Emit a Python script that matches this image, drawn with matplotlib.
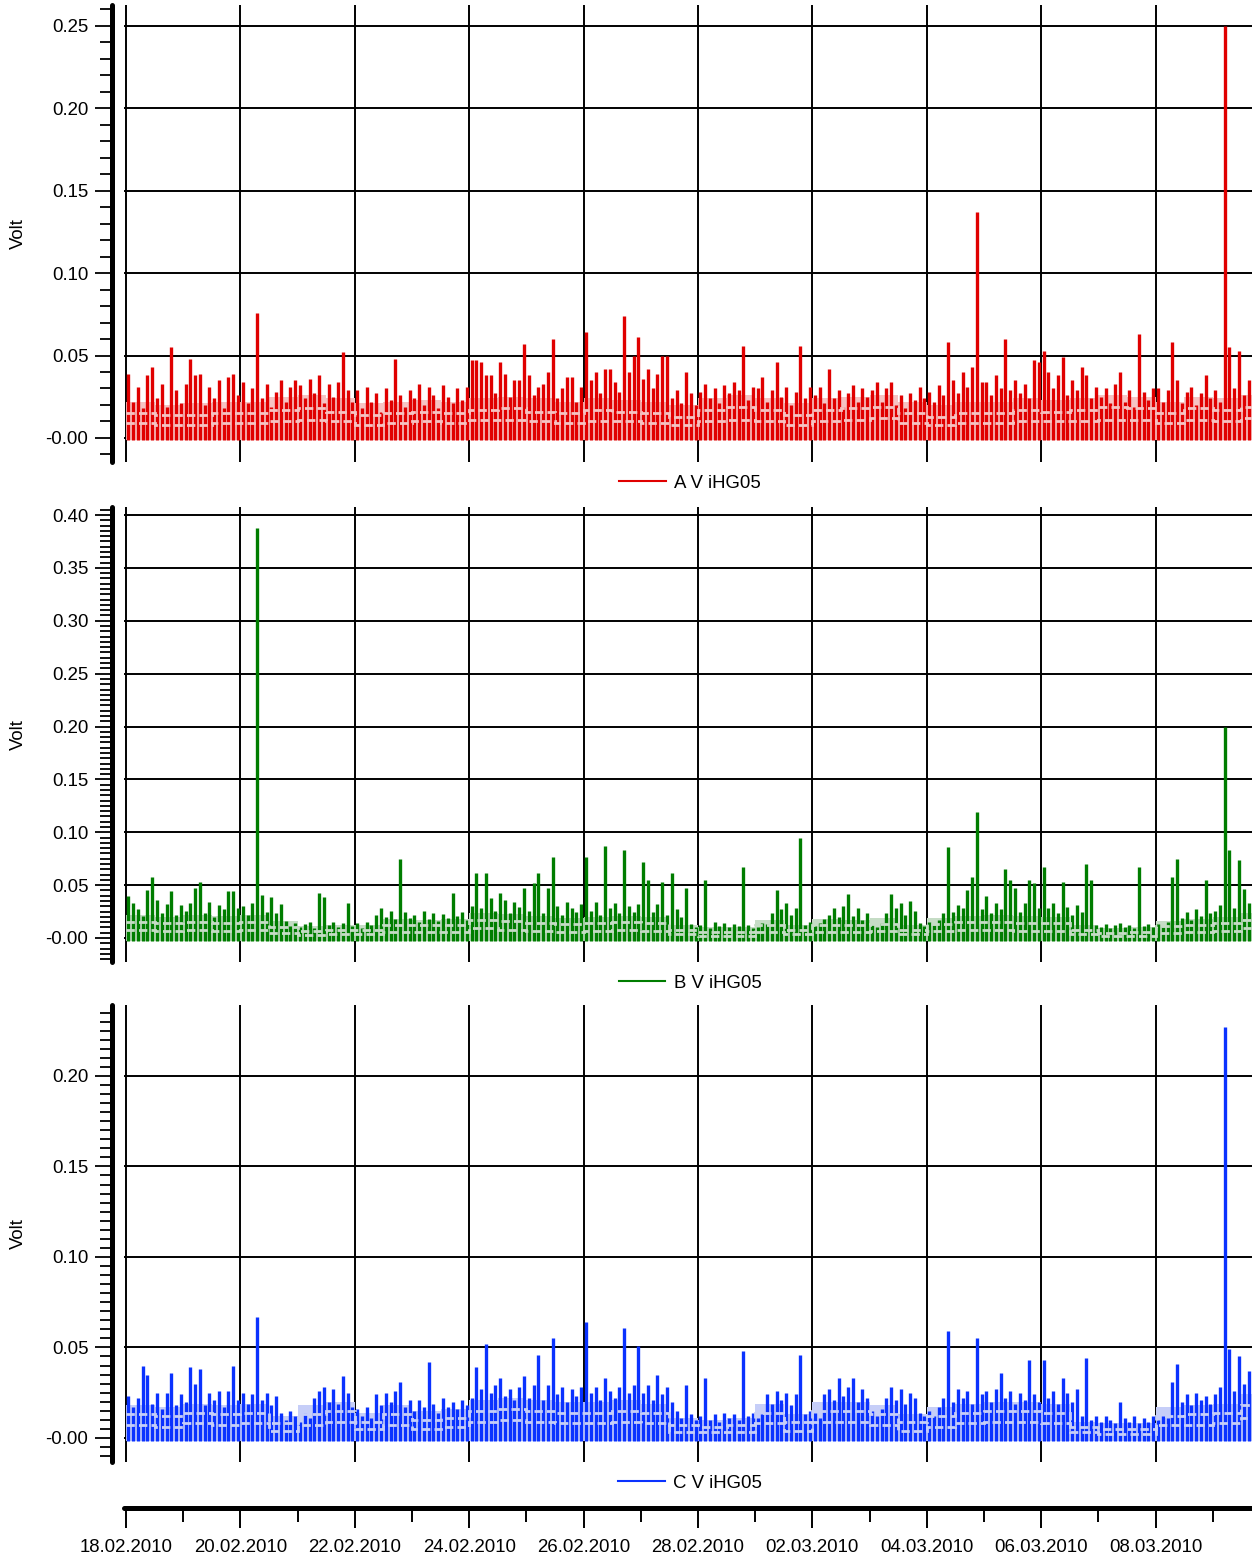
import numpy as np
import pandas as pd
import matplotlib
matplotlib.use('Agg')
import matplotlib.pyplot as plt
import matplotlib.dates as mdates
from matplotlib.lines import Line2D
from matplotlib.ticker import MultipleLocator, FixedLocator, FuncFormatter

plt.rcParams['font.family'] = ['Liberation Sans', 'DejaVu Sans']

# peak voltage per 2-hour bin in mV, first bin 18.02.2010 00:00, one row per day
peakA = [
    39, 22, 31, 18, 38, 43, 24, 33, 19, 55, 29, 21,
    33, 48, 38, 39, 20, 31, 24, 35, 18, 37, 39, 26,
    34, 21, 30, 76, 24, 33, 19, 28, 35, 22, 31, 35,
    32, 24, 36, 27, 38, 21, 33, 25, 34, 52, 29, 22,
    29, 18, 31, 22, 27, 16, 30, 23, 48, 26, 19, 29,
    24, 33, 20, 31, 26, 18, 32, 25, 21, 30, 23, 31,
    47, 47, 46, 38, 38, 27, 46, 39, 25, 35, 35, 57,
    38, 26, 31, 33, 40, 60, 24, 30, 37, 37, 22, 31,
    64, 35, 40, 27, 42, 42, 34, 28, 74, 40, 50, 61,
    36, 42, 30, 39, 50, 50, 24, 29, 21, 40, 27, 20,
    28, 33, 24, 30, 21, 32, 27, 34, 29, 56, 23, 31,
    30, 37, 22, 29, 46, 25, 31, 20, 28, 56, 24, 31,
    26, 31, 21, 42, 24, 29, 19, 27, 32, 22, 30, 25,
    29, 34, 22, 30, 34, 20, 26, 18, 27, 23, 31, 24,
    28, 22, 32, 26, 58, 35, 27, 40, 31, 43, 137, 34,
    34, 26, 38, 30, 60, 29, 35, 27, 33, 24, 47, 46,
    53, 40, 30, 38, 49, 26, 35, 29, 43, 38, 24, 31,
    25, 30, 21, 33, 40, 22, 29, 19, 63, 28, 23, 30,
    30, 22, 29, 58, 35, 21, 28, 31, 20, 27, 38, 24,
    29, 22, 250, 55, 30, 53, 26, 35,
]
peakB = [
    40, 33, 27, 21, 45, 58, 36, 24, 32, 44, 22, 31,
    26, 33, 47, 53, 24, 34, 20, 31, 27, 44, 44, 28,
    30, 22, 33, 388, 41, 25, 39, 24, 32, 16, 11, 14,
    10, 13, 15, 9, 43, 39, 12, 15, 10, 14, 33, 11,
    14, 9, 15, 12, 22, 28, 20, 26, 18, 75, 25, 19,
    22, 15, 26, 18, 24, 16, 23, 19, 43, 21, 25, 17,
    30, 61, 28, 61, 38, 26, 43, 36, 24, 34, 29, 47,
    26, 52, 61, 24, 47, 77, 30, 22, 34, 28, 25, 32,
    77, 26, 34, 22, 87, 28, 33, 24, 83, 30, 25, 32,
    72, 55, 25, 32, 53, 22, 61, 27, 20, 47, 13, 10,
    12, 55, 9, 15, 11, 14, 10, 13, 11, 67, 12, 9,
    10, 14, 13, 24, 45, 27, 33, 22, 28, 95, 12, 15,
    11, 14, 18, 22, 28, 20, 30, 42, 21, 28, 17, 24,
    13, 10, 14, 24, 42, 28, 33, 22, 35, 26, 14, 11,
    15, 12, 17, 24, 86, 25, 31, 28, 45, 58, 119, 27,
    40, 24, 33, 27, 65, 55, 47, 25, 33, 55, 52, 28,
    67, 28, 33, 24, 53, 29, 22, 31, 25, 70, 55, 12,
    10, 13, 9, 12, 14, 10, 12, 9, 67, 11, 13, 10,
    13, 10, 15, 58, 75, 19, 25, 17, 27, 21, 55, 24,
    26, 31, 200, 83, 28, 74, 46, 33,
]
peakC = [
    23, 17, 22, 40, 35, 19, 25, 16, 25, 36, 18, 24,
    20, 39, 30, 38, 18, 25, 21, 26, 17, 26, 40, 21,
    25, 19, 24, 67, 21, 25, 18, 23, 14, 10, 15, 12,
    9, 14, 11, 22, 26, 28, 20, 27, 19, 34, 25, 17,
    16, 12, 17, 11, 24, 18, 25, 20, 26, 31, 17, 21,
    15, 21, 17, 42, 19, 14, 22, 17, 20, 16, 21, 18,
    22, 39, 27, 52, 25, 29, 33, 23, 27, 21, 28, 34,
    22, 29, 46, 21, 29, 55, 24, 28, 20, 27, 23, 28,
    64, 25, 28, 21, 33, 26, 22, 28, 61, 25, 29, 51,
    25, 29, 21, 35, 24, 28, 20, 15, 11, 29, 13, 10,
    12, 33, 10, 13, 9, 14, 11, 13, 10, 48, 12, 14,
    11, 13, 24, 19, 26, 21, 25, 18, 24, 46, 13, 15,
    14, 11, 24, 27, 21, 33, 23, 28, 33, 20, 27, 22,
    15, 12, 16, 22, 28, 21, 27, 19, 25, 22, 14, 12,
    15, 12, 17, 22, 59, 20, 27, 22, 26, 19, 55, 24,
    26, 20, 27, 36, 22, 26, 19, 25, 21, 43, 24, 20,
    43, 22, 26, 19, 33, 25, 20, 27, 12, 44, 10, 12,
    9, 12, 10, 8, 20, 11, 9, 12, 8, 11, 9, 12,
    10, 12, 11, 31, 41, 20, 24, 18, 25, 21, 23, 19,
    24, 28, 227, 49, 26, 45, 30, 37,
]

# half-day envelope (mV): upper edge of the shaded band and two level lines
bandA = [22, 20, 21, 22, 22, 25, 26, 24, 21, 22, 23, 22, 24, 25, 24, 22, 24, 23, 22, 20,
         24, 26, 24, 21, 24, 25, 26, 22, 20, 22, 22, 24, 23, 24, 26, 25, 22, 25, 24, 26]
hiA = [15, 14, 14, 15, 15, 17, 18, 16, 14, 15, 16, 15, 17, 18, 16, 15, 17, 16, 15, 13,
       17, 19, 17, 14, 17, 18, 19, 15, 13, 15, 15, 17, 16, 17, 19, 18, 15, 18, 17, 19]
loA = [9, 8, 8, 9, 9, 10, 11, 10, 8, 9, 10, 9, 11, 11, 10, 9, 10, 10, 9, 8,
       10, 11, 10, 8, 10, 11, 12, 9, 8, 9, 9, 10, 10, 10, 11, 11, 9, 11, 10, 12]
bandB = [22, 20, 22, 21, 22, 16, 11, 12, 12, 18, 17, 18, 24, 23, 21, 19, 20, 21, 20, 12,
         10, 10, 17, 12, 18, 17, 19, 12, 19, 21, 22, 21, 20, 12, 9, 10, 16, 18, 20, 24]
hiB = [15, 14, 15, 14, 15, 10, 7, 8, 8, 12, 12, 12, 17, 16, 14, 13, 14, 15, 14, 8,
       6, 6, 12, 8, 12, 12, 13, 8, 13, 15, 15, 14, 14, 8, 5, 6, 11, 12, 14, 17]
loB = [8, 7, 8, 7, 8, 5, 3, 4, 4, 6, 6, 6, 9, 8, 7, 6, 7, 8, 7, 4,
       2, 2, 6, 4, 6, 6, 7, 4, 7, 8, 8, 7, 7, 4, 2, 2, 5, 6, 7, 9]
bandC = [18, 17, 19, 18, 19, 12, 18, 20, 14, 18, 15, 16, 21, 22, 21, 20, 20, 21, 19, 11,
         10, 11, 19, 13, 20, 20, 18, 13, 17, 19, 20, 20, 19, 9, 8, 8, 17, 18, 19, 24]
hiC = [13, 12, 14, 13, 14, 8, 13, 15, 9, 13, 10, 11, 15, 16, 15, 14, 14, 15, 14, 7,
       6, 7, 14, 9, 15, 15, 13, 9, 12, 14, 15, 15, 14, 6, 5, 5, 12, 13, 14, 18]
loC = [7, 6, 8, 7, 8, 4, 7, 9, 5, 7, 5, 6, 9, 10, 9, 8, 8, 9, 8, 3,
       3, 3, 8, 4, 9, 9, 7, 4, 6, 8, 9, 9, 8, 3, 2, 2, 7, 7, 8, 11]

# lowest reading of each channel (mV)
floorA, floorB, floorC = -1.5, -3.0, -1.5

labels = ['A V iHG05', 'B V iHG05', 'C V iHG05']
start = pd.Timestamp('2010-02-18')
binTimes = pd.date_range(start + pd.Timedelta(hours=1), periods=len(peakA), freq='2h')
bandEdges = pd.date_range(start, periods=len(bandA) + 1, freq='12h')
majorDays = pd.date_range('2010-02-18', '2010-03-08', freq='2D')
minorDays = pd.date_range('2010-02-18', '2010-03-09', freq='1D')

W, H = 1252, 1559
FS = 13.4


def toNum(idx):
    return mdates.date2num(idx.to_pydatetime())


t0 = mdates.date2num(start.to_pydatetime())
xlim = (t0 - 2 / 57.2, t0 + (W - 126) / 57.2)


def figRect(top, bottom, left=124, right=1252):
    return [left / W, 1 - bottom / H, (right - left) / W, (bottom - top) / H]


def yFmt(v, pos):
    if abs(v) < 1e-9:
        return '-0.00'
    return '%.2f' % v


def drawPanel(fig, rect, ylim, minor, peaks, band, hi, lo, floor, dark, light, label, legendY):
    ax = fig.add_axes(rect)
    t = toNum(binTimes)
    edges = toNum(bandEdges)
    pk = np.array(peaks) / 1000.0
    ax.stairs(np.array(band) / 1000.0, edges, baseline=floor / 1000.0, fill=True,
              color=light, lw=0, zorder=2)
    ax.vlines(t, floor / 1000.0, pk, color=dark, lw=2.4, zorder=3)
    for lvl in (hi, lo):
        ax.stairs(np.array(lvl) / 1000.0, edges, baseline=None, color=light,
                  lw=2.0, ls=(0, (3, 1.5)), zorder=4)

    ax.set_xlim(xlim)
    ax.set_ylim(ylim)
    ax.xaxis.set_major_locator(FixedLocator(toNum(majorDays)))
    ax.tick_params(axis='x', which='both', length=0, labelbottom=False)
    ax.yaxis.set_major_locator(MultipleLocator(0.05))
    ax.yaxis.set_minor_locator(MultipleLocator(minor))
    ax.yaxis.set_major_formatter(FuncFormatter(yFmt))
    ax.tick_params(axis='y', which='major', length=12, width=1.3, pad=5, labelsize=FS)
    ax.tick_params(axis='y', which='minor', length=8.6, width=1.3)
    ax.grid(True, which='major', color='black', lw=1.4)
    ax.set_axisbelow(True)
    for s in ('top', 'right', 'bottom'):
        ax.spines[s].set_visible(False)
    ax.spines['left'].set_position(('outward', 8.6))
    ax.spines['left'].set_linewidth(3.6)
    ax.spines['left'].set_capstyle('round')
    ax.patch.set_visible(False)

    mid = rect[1] + rect[3] / 2
    fig.text(18 / W, mid, 'Volt', rotation=90, ha='center', va='center', fontsize=FS)
    ax.legend(handles=[Line2D([], [], color=dark, lw=1.5)], labels=[label],
              loc='center', bbox_to_anchor=(690 / W, 1 - legendY / H),
              bbox_transform=fig.transFigure, frameon=False, fontsize=FS,
              handlelength=2.5, handletextpad=0.45)
    return ax


fig = plt.figure(figsize=(W / 100, H / 100), dpi=100)

drawPanel(fig, figRect(5, 462), (-0.0146, 0.2627), 0.01, peakA, bandA, hiA, loA, floorA,
          '#e00000', '#f6c3c3', labels[0], 483)
drawPanel(fig, figRect(507, 962), (-0.0227, 0.4076), 0.005, peakB, bandB, hiB, loB, floorB,
          '#007d00', '#c5dcc5', labels[1], 983)
drawPanel(fig, figRect(1005, 1462), (-0.0133, 0.2392), 0.005, peakC, bandC, hiC, loC, floorC,
          '#0a32ff', '#c6cef8', labels[2], 1483)

# shared date axis underneath the three channels
axd = fig.add_axes(figRect(1507, 1508))
axd.set_xlim(xlim)
axd.xaxis.set_major_locator(FixedLocator(toNum(majorDays)))
axd.xaxis.set_minor_locator(FixedLocator(toNum(minorDays)))
axd.xaxis.set_major_formatter(mdates.DateFormatter('%d.%m.%Y'))
axd.tick_params(axis='x', which='major', length=14.4, width=1.4, pad=8, labelsize=FS)
axd.tick_params(axis='x', which='minor', length=10, width=1.4)
axd.set_yticks([])
for s in ('top', 'right', 'left'):
    axd.spines[s].set_visible(False)
axd.spines['bottom'].set_linewidth(3.6)
axd.spines['bottom'].set_capstyle('round')
axd.patch.set_visible(False)

fig.savefig('out.png', dpi=100)
